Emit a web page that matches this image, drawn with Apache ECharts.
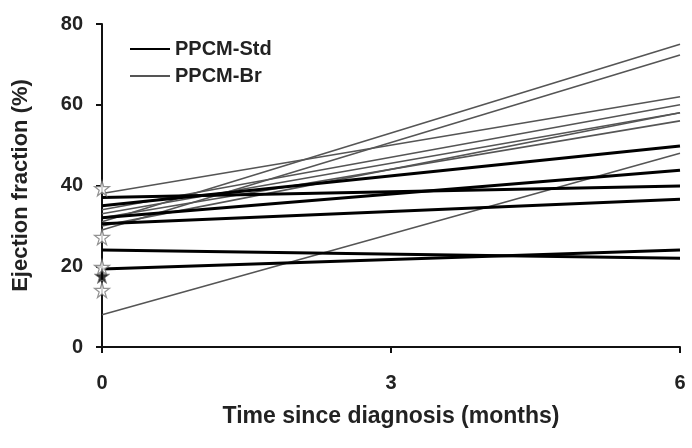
<!DOCTYPE html>
<html>
<head>
<meta charset="utf-8">
<script src="https://cdn.jsdelivr.net/npm/echarts@6/dist/echarts.min.js"></script>
<style>
  html, body { margin: 0; padding: 0; background: #fff; }
  #chart { width: 692px; height: 448px; }
</style>
</head>
<body>
<div id="chart"></div>
<script>
// time points (months since diagnosis)
const months = [0, 6]

// PPCM-Std patients (thick lines): EF at 0 and 6 months
const stdStart = [35, 32, 37, 30.5, 24, 19.3]
const stdEnd = [49.8, 43.8, 39.9, 36.6, 22, 24]

// PPCM-Br patients (thin lines)
const brStart = [31, 29, 38, 34, 33, 30, 32, 8]
const brEnd = [75, 72.3, 62, 60, 58, 58, 56, 48]

// star markers at diagnosis
const openStars = [39.3, 27.2, 19.8, 14.1]
const filledStars = [17.6]

const yTicks = [0, 20, 40, 60, 80]
const xTicks = [0, 3, 6]

const STAR = 'path://M50,0L61,35H98L68,57L79,91L50,70L21,91L32,57L2,35H39Z'
const FONT = 'Liberation Sans, Arial, sans-serif'

const chart = echarts.init(document.getElementById('chart'))

function pairSeries(name, starts, ends, color, width) {
  return starts.map((s, i) => ({
    name: name,
    type: 'line',
    symbol: 'none',
    showSymbol: false,
    silent: true,
    z: width > 2 ? 4 : 3,
    lineStyle: { color: color, width: width },
    itemStyle: { color: color },
    data: [[months[0], s], [months[1], ends[i]]]
  }))
}

const series = []
  .concat(pairSeries('PPCM-Br', brStart, brEnd, '#555', 1.6))
  .concat(pairSeries('PPCM-Std', stdStart, stdEnd, '#000', 3))

series.push({
  type: 'scatter',
  symbol: STAR,
  symbolSize: 15,
  clip: false,
  z: 6,
  itemStyle: { color: '#fff', borderColor: '#777', borderWidth: 1.2 },
  data: openStars.map(v => [0, v])
})
series.push({
  type: 'scatter',
  symbol: STAR,
  symbolSize: 15,
  clip: false,
  z: 6,
  itemStyle: { color: '#000', borderColor: '#777', borderWidth: 1 },
  data: filledStars.map(v => [0, v])
})

chart.setOption({
  animation: false,
  backgroundColor: '#fff',
  grid: {
    left: 102,
    right: 12,
    top: 24,
    bottom: 101,
    containLabel: false,
    outerBoundsMode: 'none'
  },
  legend: {
    data: ['PPCM-Std', 'PPCM-Br'],
    orient: 'vertical',
    left: 124,
    top: 34,
    itemWidth: 40,
    itemHeight: 14,
    itemGap: 7,
    selectedMode: false,
    itemStyle: { opacity: 0 },
    textStyle: { fontFamily: FONT, fontSize: 20, fontWeight: 'bold', color: '#222' }
  },
  xAxis: {
    type: 'value',
    min: xTicks[0],
    max: xTicks[xTicks.length - 1],
    interval: 3,
    name: 'Time since diagnosis (months)',
    nameLocation: 'middle',
    nameGap: 58,
    nameTextStyle: { fontFamily: FONT, fontSize: 23, fontWeight: 'bold', color: '#222' },
    axisLine: { show: true, onZero: false, lineStyle: { color: '#111', width: 2 } },
    axisTick: { show: true, length: 6, lineStyle: { color: '#111', width: 2 } },
    axisLabel: { margin: 26, fontFamily: FONT, fontSize: 20, fontWeight: 'bold', color: '#222' },
    splitLine: { show: false }
  },
  yAxis: {
    type: 'value',
    min: yTicks[0],
    max: yTicks[yTicks.length - 1],
    interval: 20,
    name: 'Ejection fraction (%)',
    nameLocation: 'middle',
    nameGap: 70,
    nameTextStyle: { fontFamily: FONT, fontSize: 22, fontWeight: 'bold', color: '#222' },
    axisLine: { show: true, onZero: false, lineStyle: { color: '#111', width: 2 } },
    axisTick: { show: true, length: 6, lineStyle: { color: '#111', width: 2 } },
    axisLabel: { margin: 19, fontFamily: FONT, fontSize: 20, fontWeight: 'bold', color: '#222' },
    splitLine: { show: false }
  },
  series: series
})
</script>
</body>
</html>
